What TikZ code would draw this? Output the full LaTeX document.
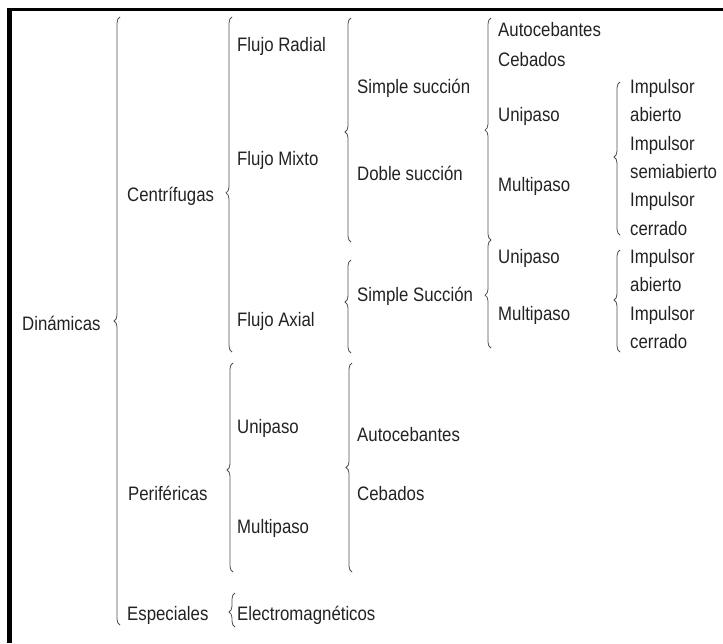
\documentclass[tikz,border=0pt]{standalone}
\usepackage{graphicx}
\usepackage{fontspec}
\setmainfont{Liberation Sans}
\usetikzlibrary{decorations.pathreplacing}

\definecolor{txtgray}{HTML}{222222}
\definecolor{bracegray}{HTML}{505050}

% slightly tall lettering
\newcommand{\tall}[1]{\scalebox{1}[1.16]{#1}}

\tikzset{
  lbl/.style={anchor=base west, inner sep=0pt, text=txtgray,
              font=\fontsize{16.8}{20}\selectfont},
  clbrace/.style={draw=bracegray, line width=0.8pt, decorate,
                  decoration={brace, amplitude=6pt, aspect=#1}},
  frameline/.style={draw=black}
}

\begin{document}
\begin{tikzpicture}[x=1pt, y=-1pt]
\useasboundingbox (0,0) rectangle (723,643);

% frame
\draw[frameline, line width=3.5pt] (8,9.5) -- (723,9.5);
\draw[frameline, line width=4.5pt] (9.5,8) -- (9.5,643);

% level 1
\node[lbl] (din) at (22,330) {\tall{Dinámicas}};

% level 2
\node[lbl] (cen) at (127,201) {\tall{Centrífugas}};
\node[lbl] (per) at (128,500) {\tall{Periféricas}};
\node[lbl] (esp) at (127,620) {\tall{Especiales}};

% level 3
\node[lbl] (fr)   at (237,51)  {\tall{Flujo Radial}};
\node[lbl] (fm)   at (237,165) {\tall{Flujo Mixto}};
\node[lbl] (fa)   at (237,326) {\tall{Flujo Axial}};
\node[lbl] (uni1) at (237,433) {\tall{Unipaso}};
\node[lbl] (mul1) at (237,533) {\tall{Multipaso}};
\node[lbl] (ele)  at (237,620) {\tall{Electromagnéticos}};

% level 4
\node[lbl] (ss)    at (357,93)  {\tall{Simple succión}};
\node[lbl] (ds)    at (357,180) {\tall{Doble succión}};
\node[lbl] (ssa)   at (357,301) {\tall{Simple Succión}};
\node[lbl] (auto2) at (357,441) {\tall{Autocebantes}};
\node[lbl] (ceb2)  at (357,500) {\tall{Cebados}};

% level 5
\node[lbl] (auto1) at (498,36)  {\tall{Autocebantes}};
\node[lbl] (ceb1)  at (498,66)  {\tall{Cebados}};
\node[lbl] (uni2)  at (498,121) {\tall{Unipaso}};
\node[lbl] (mul2)  at (498,191) {\tall{Multipaso}};
\node[lbl] (uni3)  at (498,263) {\tall{Unipaso}};
\node[lbl] (mul3)  at (498,320) {\tall{Multipaso}};

% level 6
\node[lbl] (ia1) at (630,93)  {\tall{Impulsor}};
\node[lbl] (ia2) at (630,121) {\tall{abierto}};
\node[lbl] (is1) at (630,150) {\tall{Impulsor}};
\node[lbl] (is2) at (630,178) {\tall{semiabierto}};
\node[lbl] (ic1) at (630,206) {\tall{Impulsor}};
\node[lbl] (ic2) at (630,235) {\tall{cerrado}};
\node[lbl] (ja1) at (630,263) {\tall{Impulsor}};
\node[lbl] (ja2) at (630,291) {\tall{abierto}};
\node[lbl] (jc1) at (630,320) {\tall{Impulsor}};
\node[lbl] (jc2) at (630,348) {\tall{cerrado}};

% braces, each drawn bottom to top so the tip points left
\draw[clbrace=0.5]   (120,625) -- (120,17);
\draw[clbrace=0.475] (232,352) -- (232,17);
\draw[clbrace=0.488] (233,572) -- (233,363);
\draw[clbrace=0.44]  (235,627) -- (235,593);
\draw[clbrace=0.491] (351,242) -- (351,18);
\draw[clbrace=0.548] (351,353) -- (351,260);
\draw[clbrace=0.5]   (352,572) -- (352,363);
\draw[clbrace=0.495] (491,240) -- (491,18);
\draw[clbrace=0.49]  (491,348) -- (491,240);
\draw[clbrace=0.51]  (620,235) -- (620,82);
\draw[clbrace=0.51]  (620,352) -- (620,250);
\end{tikzpicture}
\end{document}
